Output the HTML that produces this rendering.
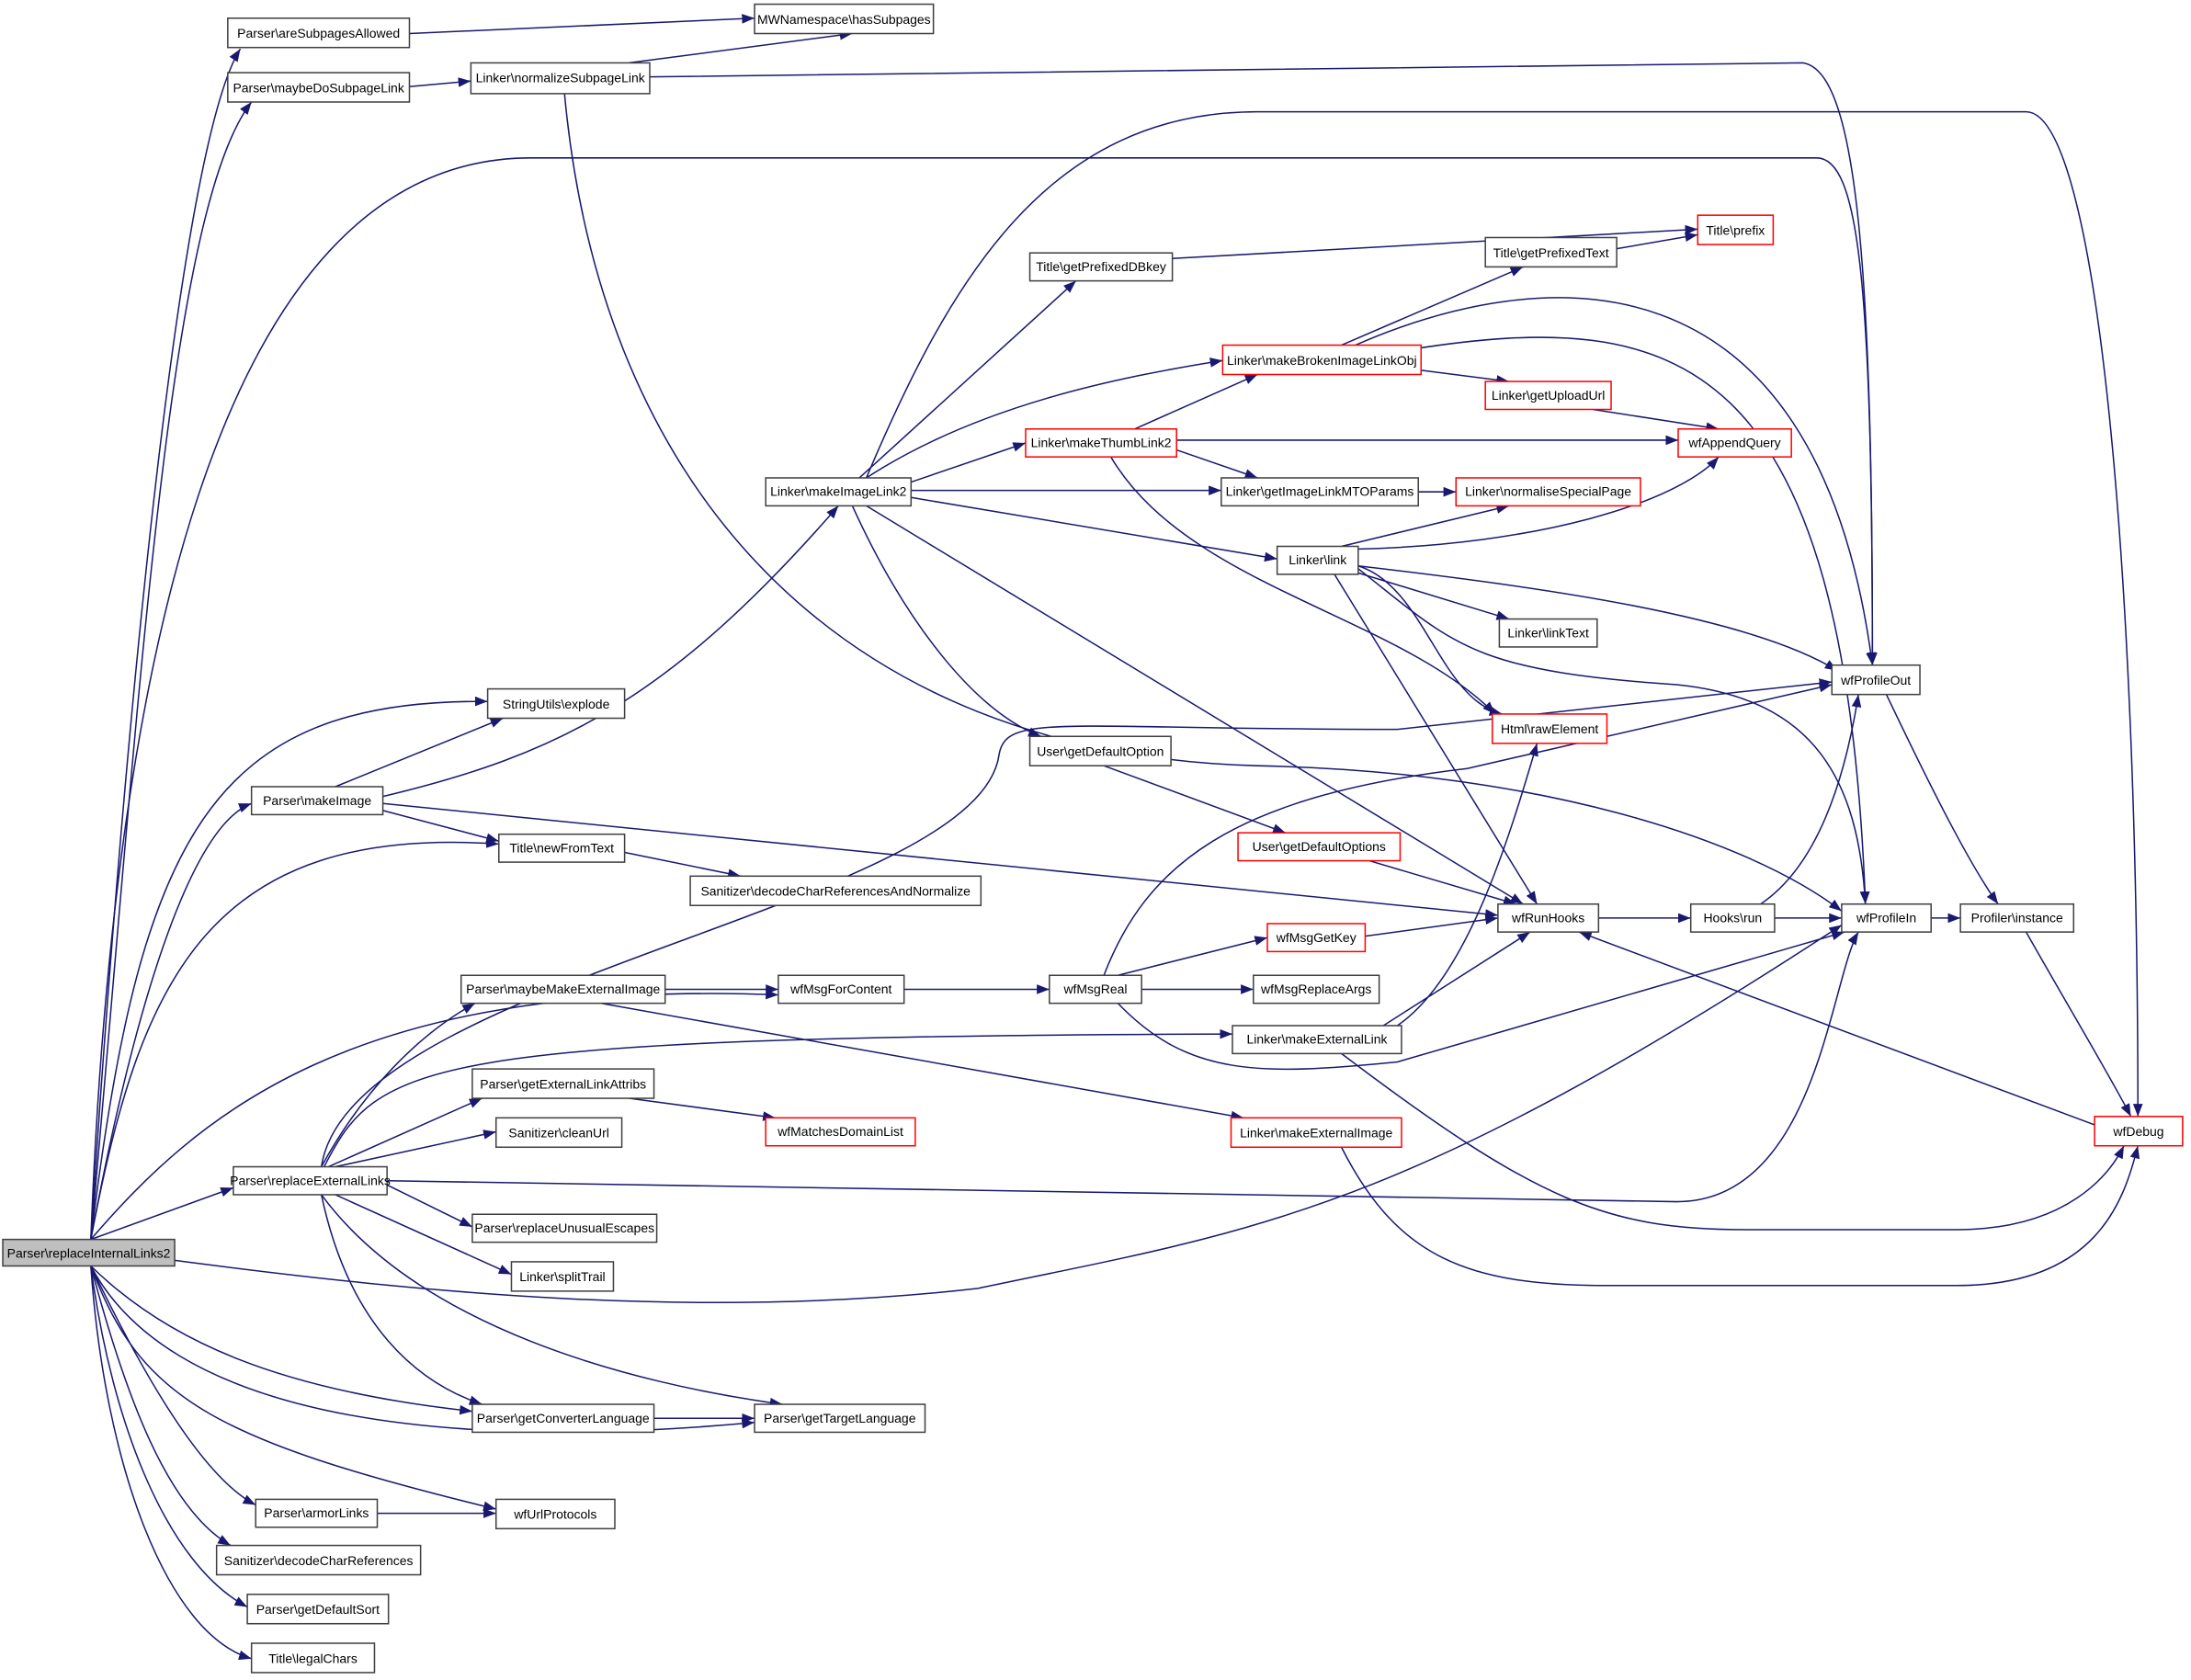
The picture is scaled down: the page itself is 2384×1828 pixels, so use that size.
<!DOCTYPE html>
<html><head><meta charset="utf-8"><style>html,body{margin:0;padding:0;background:#fff}svg{display:block}</style></head>
<body>
<svg width="2384" height="1828" viewBox="0 0 1568 1202.3" xmlns="http://www.w3.org/2000/svg">
<defs><marker id="a" markerUnits="userSpaceOnUse" markerWidth="9" markerHeight="7" refX="9" refY="3.5" orient="auto"><path d="M0,0 L9,3.5 L0,7 z" fill="#191970"/></marker></defs>
<g fill="none" stroke="#191970" stroke-width="1" marker-end="url(#a)">
<path d="M65,887 C 90,500 130,100 172,35"/>
<path d="M65,887 C 100,500 120,150 180,73"/>
<path d="M65,887 C 80,500 150,113 380,113 L 1300,113 C 1330,113 1340,200 1340,476"/>
<path d="M65,887 C 100,600 150,500 349,502"/>
<path d="M65,887 C 100,700 140,590 180,575"/>
<path d="M65,887 C 100,700 150,590 357,604"/>
<path d="M65,887 C 140,800 250,700 557,712"/>
<path d="M65,887 L 167,850"/>
<path d="M125,902 C 300,925 500,945 700,922 C 900,880 1000,870 1318,662"/>
<path d="M65,906 C 120,960 200,995 338,1010"/>
<path d="M65,906 C 120,1010 300,1040 540,1018"/>
<path d="M65,906 C 110,1000 150,1060 183,1077"/>
<path d="M65,906 C 100,1000 150,1030 355,1080"/>
<path d="M65,906 C 90,1000 120,1080 165,1106"/>
<path d="M65,906 C 80,1020 120,1120 177,1150"/>
<path d="M65,906 C 75,1050 120,1170 180,1187"/>
<path d="M240,563 L 360,514"/>
<path d="M274,570 C 400,540 480,500 600,362"/>
<path d="M274,580 L 357,602"/>
<path d="M274,575 L 1072,655"/>
<path d="M230,835 C 250,700 700,650 715,540 C 720,510 760,522 1000,522 L 1311,488"/>
<path d="M230,835 C 260,780 300,740 340,718"/>
<path d="M232,835 C 270,760 300,742 882,740"/>
<path d="M235,835 L 345,786"/>
<path d="M240,835 L 355,810"/>
<path d="M277,848 L 338,878"/>
<path d="M240,855 L 366,912"/>
<path d="M230,855 C 250,950 300,990 345,1005"/>
<path d="M230,855 C 300,950 450,990 560,1005"/>
<path d="M277,845 L 1200,860 C 1300,860 1310,700 1330,667"/>
<path d="M476,708 L 557,708"/>
<path d="M430,718 L 890,800"/>
<path d="M450,786 L 555,800"/>
<path d="M468,1015 L 540,1015"/>
<path d="M270,1083 L 355,1083"/>
<path d="M293,24 L 540,13"/>
<path d="M293,62 L 337,58"/>
<path d="M450,45 L 610,24"/>
<path d="M465,55 L 1290,45 C 1330,50 1340,200 1340,476"/>
<path d="M404,67 C 430,350 600,540 900,548 C 1100,552 1250,600 1318,652"/>
<path d="M447,610 L 530,627"/>
<path d="M620,342 C 680,200 750,80 900,80 L 1450,80 C 1500,80 1530,400 1530,799"/>
<path d="M615,342 L 770,201"/>
<path d="M620,342 C 700,290 800,270 875,258"/>
<path d="M652,345 L 734,317"/>
<path d="M652,351 L 874,351"/>
<path d="M652,356 L 914,400"/>
<path d="M620,362 L 1090,647"/>
<path d="M610,362 C 650,450 700,510 745,527"/>
<path d="M839,185 L 1215,164"/>
<path d="M1157,178 L 1215,168"/>
<path d="M960,247 L 1090,191"/>
<path d="M970,247 C 1100,190 1300,170 1340,476"/>
<path d="M1010,250 C 1200,220 1320,250 1335,647"/>
<path d="M1017,265 L 1080,273"/>
<path d="M1140,293 L 1230,307"/>
<path d="M812,307 L 900,268"/>
<path d="M842,315 L 1201,315"/>
<path d="M842,322 L 900,342"/>
<path d="M795,327 C 850,420 1000,440 1070,511"/>
<path d="M1015,352 L 1042,352"/>
<path d="M960,391 L 1080,362"/>
<path d="M970,393 C 1100,390 1200,360 1230,327"/>
<path d="M972,410 L 1080,443"/>
<path d="M972,405 C 1100,420 1250,440 1315,480"/>
<path d="M972,405 C 1020,420 1030,500 1075,511"/>
<path d="M972,407 C 1040,460 1050,480 1200,490 C 1300,500 1330,560 1335,647"/>
<path d="M955,411 L 1100,647"/>
<path d="M790,548 L 920,596"/>
<path d="M980,616 L 1085,647"/>
<path d="M1144,657 L 1210,657"/>
<path d="M1270,657 L 1318,657"/>
<path d="M1260,647 C 1300,620 1320,560 1330,497"/>
<path d="M1382,657 L 1403,657"/>
<path d="M1350,497 C 1380,560 1410,620 1430,647"/>
<path d="M1450,667 C 1480,720 1510,770 1525,799"/>
<path d="M1499,805 L 1130,667"/>
<path d="M647,708 L 751,708"/>
<path d="M800,698 L 907,671"/>
<path d="M817,708 L 897,708"/>
<path d="M790,698 C 820,620 880,570 1050,550 L 1311,490"/>
<path d="M800,718 C 850,770 900,770 1000,760 L 1320,667"/>
<path d="M977,670 L 1072,657"/>
<path d="M1000,734 C 1050,700 1080,600 1100,532"/>
<path d="M990,734 L 1095,667"/>
<path d="M960,754 C 1100,860 1150,880 1250,880 L 1400,880 C 1480,880 1510,840 1520,820"/>
<path d="M960,821 C 1000,900 1050,920 1150,920 L 1400,920 C 1500,920 1520,860 1530,820"/>
</g>
<g font-family="Liberation Sans, sans-serif" font-size="9.2" text-anchor="middle" stroke-width="1">
<rect x="2" y="887" width="123" height="19" fill="#bfbfbf" stroke="#404040"/><text x="63.5" y="900">Parser\replaceInternalLinks2</text>
<rect x="163" y="13" width="130" height="21" fill="#fff" stroke="#404040"/><text x="228" y="27">Parser\areSubpagesAllowed</text>
<rect x="540" y="3" width="128" height="21" fill="#fff" stroke="#404040"/><text x="604" y="17">MWNamespace\hasSubpages</text>
<rect x="163" y="52" width="130" height="21" fill="#fff" stroke="#404040"/><text x="228" y="66">Parser\maybeDoSubpageLink</text>
<rect x="337" y="45" width="128" height="22" fill="#fff" stroke="#404040"/><text x="401" y="59">Linker\normalizeSubpageLink</text>
<rect x="349" y="493" width="98" height="21" fill="#fff" stroke="#404040"/><text x="398" y="507">StringUtils\explode</text>
<rect x="180" y="563" width="94" height="20" fill="#fff" stroke="#404040"/><text x="227" y="576">Parser\makeImage</text>
<rect x="357" y="597" width="90" height="20" fill="#fff" stroke="#404040"/><text x="402" y="610">Title\newFromText</text>
<rect x="494" y="627" width="208" height="21" fill="#fff" stroke="#404040"/><text x="598" y="641">Sanitizer\decodeCharReferencesAndNormalize</text>
<rect x="330" y="698" width="146" height="20" fill="#fff" stroke="#404040"/><text x="403" y="711">Parser\maybeMakeExternalImage</text>
<rect x="557" y="698" width="90" height="20" fill="#fff" stroke="#404040"/><text x="602" y="711">wfMsgForContent</text>
<rect x="338" y="765" width="130" height="21" fill="#fff" stroke="#404040"/><text x="403" y="779">Parser\getExternalLinkAttribs</text>
<rect x="355" y="800" width="90" height="21" fill="#fff" stroke="#404040"/><text x="400" y="814">Sanitizer\cleanUrl</text>
<rect x="167" y="835" width="110" height="20" fill="#fff" stroke="#404040"/><text x="222" y="848">Parser\replaceExternalLinks</text>
<rect x="338" y="869" width="132" height="20" fill="#fff" stroke="#404040"/><text x="404" y="882">Parser\replaceUnusualEscapes</text>
<rect x="366" y="903" width="73" height="21" fill="#fff" stroke="#404040"/><text x="402.5" y="917">Linker\splitTrail</text>
<rect x="338" y="1005" width="130" height="20" fill="#fff" stroke="#404040"/><text x="403" y="1018">Parser\getConverterLanguage</text>
<rect x="540" y="1005" width="122" height="20" fill="#fff" stroke="#404040"/><text x="601" y="1018">Parser\getTargetLanguage</text>
<rect x="183" y="1073" width="87" height="20" fill="#fff" stroke="#404040"/><text x="226.5" y="1086">Parser\armorLinks</text>
<rect x="355" y="1073" width="85" height="21" fill="#fff" stroke="#404040"/><text x="397.5" y="1087">wfUrlProtocols</text>
<rect x="155" y="1106" width="146" height="21" fill="#fff" stroke="#404040"/><text x="228" y="1120">Sanitizer\decodeCharReferences</text>
<rect x="177" y="1141" width="101" height="21" fill="#fff" stroke="#404040"/><text x="227.5" y="1155">Parser\getDefaultSort</text>
<rect x="180" y="1176" width="88" height="21" fill="#fff" stroke="#404040"/><text x="224" y="1190">Title\legalChars</text>
<rect x="548" y="342" width="104" height="20" fill="#fff" stroke="#404040"/><text x="600" y="355">Linker\makeImageLink2</text>
<rect x="737" y="181" width="102" height="20" fill="#fff" stroke="#404040"/><text x="788" y="194">Title\getPrefixedDBkey</text>
<rect x="1215" y="154" width="54" height="21" fill="#fff" stroke="#ff0000"/><text x="1242" y="168">Title\prefix</text>
<rect x="1063" y="170" width="94" height="21" fill="#fff" stroke="#404040"/><text x="1110" y="184">Title\getPrefixedText</text>
<rect x="875" y="247" width="142" height="21" fill="#fff" stroke="#ff0000"/><text x="946" y="261">Linker\makeBrokenImageLinkObj</text>
<rect x="1063" y="273" width="90" height="20" fill="#fff" stroke="#ff0000"/><text x="1108" y="286">Linker\getUploadUrl</text>
<rect x="734" y="307" width="108" height="20" fill="#fff" stroke="#ff0000"/><text x="788" y="320">Linker\makeThumbLink2</text>
<rect x="1201" y="307" width="81" height="20" fill="#fff" stroke="#ff0000"/><text x="1241.5" y="320">wfAppendQuery</text>
<rect x="874" y="342" width="141" height="20" fill="#fff" stroke="#404040"/><text x="944.5" y="355">Linker\getImageLinkMTOParams</text>
<rect x="1042" y="342" width="132" height="20" fill="#fff" stroke="#ff0000"/><text x="1108" y="355">Linker\normaliseSpecialPage</text>
<rect x="914" y="391" width="58" height="20" fill="#fff" stroke="#404040"/><text x="943" y="404">Linker\link</text>
<rect x="1073" y="443" width="70" height="20" fill="#fff" stroke="#404040"/><text x="1108" y="456">Linker\linkText</text>
<rect x="1311" y="476" width="63" height="21" fill="#fff" stroke="#404040"/><text x="1342.5" y="490">wfProfileOut</text>
<rect x="1068" y="511" width="82" height="21" fill="#fff" stroke="#ff0000"/><text x="1109" y="525">Html\rawElement</text>
<rect x="737" y="527" width="101" height="21" fill="#fff" stroke="#404040"/><text x="787.5" y="541">User\getDefaultOption</text>
<rect x="886" y="596" width="116" height="20" fill="#fff" stroke="#ff0000"/><text x="944" y="609">User\getDefaultOptions</text>
<rect x="1072" y="647" width="72" height="20" fill="#fff" stroke="#404040"/><text x="1108" y="660">wfRunHooks</text>
<rect x="1210" y="647" width="60" height="20" fill="#fff" stroke="#404040"/><text x="1240" y="660">Hooks\run</text>
<rect x="1318" y="647" width="64" height="20" fill="#fff" stroke="#404040"/><text x="1350" y="660">wfProfileIn</text>
<rect x="1403" y="647" width="81" height="20" fill="#fff" stroke="#404040"/><text x="1443.5" y="660">Profiler\instance</text>
<rect x="907" y="661" width="70" height="20" fill="#fff" stroke="#ff0000"/><text x="942" y="674">wfMsgGetKey</text>
<rect x="751" y="698" width="66" height="20" fill="#fff" stroke="#404040"/><text x="784" y="711">wfMsgReal</text>
<rect x="897" y="698" width="90" height="20" fill="#fff" stroke="#404040"/><text x="942" y="711">wfMsgReplaceArgs</text>
<rect x="882" y="734" width="121" height="20" fill="#fff" stroke="#404040"/><text x="942.5" y="747">Linker\makeExternalLink</text>
<rect x="548" y="800" width="107" height="20" fill="#fff" stroke="#ff0000"/><text x="601.5" y="813">wfMatchesDomainList</text>
<rect x="881" y="800" width="122" height="21" fill="#fff" stroke="#ff0000"/><text x="942" y="814">Linker\makeExternalImage</text>
<rect x="1499" y="799" width="63" height="21" fill="#fff" stroke="#ff0000"/><text x="1530.5" y="813">wfDebug</text>
</g>
</svg>
</body></html>
